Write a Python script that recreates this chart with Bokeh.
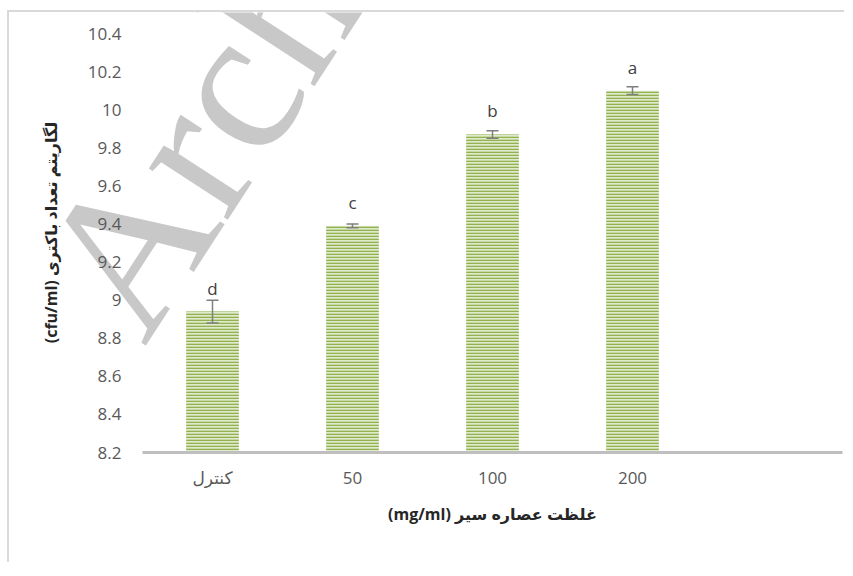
from bokeh.plotting import figure
from bokeh.models import (ColumnDataSource, Range1d, FixedTicker,
                          Whisker, TeeHead, LabelSet, Label)
from bokeh.core.properties import value
from bokeh.embed import file_html
from bokeh.resources import INLINE
import math

# ---- data ----
categories = ["کنترل", "50", "100", "200"]
means = [8.94, 9.39, 9.87, 10.10]
errors = [0.06, 0.01, 0.02, 0.02]
letters = ["d", "c", "b", "a"]
y_ticks = [8.2, 8.4, 8.6, 8.8, 9.0, 9.2, 9.4, 9.6, 9.8, 10.0, 10.2, 10.4]
y_tick_labels = ["8.2", "8.4", "8.6", "8.8", "9", "9.2", "9.4", "9.6", "9.8", "10", "10.2", "10.4"]
x_title = "\u202bغلظت عصاره سیر (mg/ml)\u202c"
y_title = "\u202bلگاریتم تعداد باکتری (cfu/ml)\u202c"
watermark = "Archive of SID"

xs = list(range(len(categories)))
n_slots = len(categories) + 1          # the chart keeps one empty slot on the right

src = ColumnDataSource(dict(
    x=xs,
    means=means,
    upper=[m + e for m, e in zip(means, errors)],
    lower=[m - e for m, e in zip(means, errors)],
    letters=letters,
))

FONT = "Open Sans, DejaVu Sans"

# ---- layout (pixels) ----
W, H = 835, 550                 # canvas
PL, PT, PW, PH = 133, 21, 700, 419   # plot area inside the canvas
ux = PW / n_slots
uy = PH / (y_ticks[-1] - y_ticks[0])
x0 = -0.5 - PL / ux
x1 = -0.5 + (W - PL) / ux
y1 = y_ticks[-1] + PT / uy
y0 = y_ticks[0] - (H - PT - PH) / uy

p = figure(
    x_range=Range1d(x0, x1), y_range=Range1d(y0, y1),
    frame_width=W, frame_height=H,
    min_border_left=0, min_border_right=0, min_border_top=0, min_border_bottom=0,
    output_backend="svg", toolbar_location=None,
)
p.styles = {"border-top": "2px solid #d9d9d9", "border-left": "2px solid #d9d9d9",
            "position": "relative", "left": "7px", "top": "10px"}
p.outline_line_color = None
p.xgrid.visible = False
p.ygrid.visible = False
p.background_fill_color = "white"
p.border_fill_color = "white"

# watermark, behind everything
wm = Label(x=75, y=295, x_units="canvas", y_units="canvas", text=watermark,
           angle=math.radians(57),
           text_font="Liberation Serif", text_font_size="205px",
           text_color="#c8c8c8", text_align="left", text_baseline="alphabetic",
           level="underlay")
p.add_layout(wm)

p.vbar(x="x", top="means", bottom=y_ticks[0], width=0.376, source=src,
       fill_color="#dfe9cb", line_color=None,
       hatch_pattern="horizontal_line", hatch_color="#92b24f",
       hatch_scale=3, hatch_weight=1.6)

wh = Whisker(source=src, base="x", upper="upper", lower="lower",
             line_color="#7f7f7f", line_width=1.5, level="annotation",
             upper_head=TeeHead(size=12, line_color="#7f7f7f", line_width=1.5),
             lower_head=TeeHead(size=12, line_color="#7f7f7f", line_width=1.5))
p.add_layout(wh)

lab = LabelSet(x="x", y="means", text="letters", source=src, y_offset=17,
               text_align="center", text_baseline="alphabetic",
               text_font=value(FONT), text_font_size=value("17px"),
               text_color="#404040")
p.add_layout(lab)

# ---- axes, pinned at the plot-area edges ----
p.yaxis.fixed_location = -0.5
p.yaxis.bounds = (y_ticks[0], y_ticks[-1] + 0.2)
p.yaxis.ticker = FixedTicker(ticks=y_ticks)
p.yaxis.major_label_overrides = {t: l for t, l in zip(y_ticks, y_tick_labels)}
p.yaxis.axis_line_color = None
p.yaxis.major_tick_line_color = None
p.yaxis.minor_tick_line_color = None
p.yaxis.major_tick_out = 0
p.yaxis.major_tick_in = 0
p.yaxis.major_label_standoff = 21
p.yaxis.major_label_text_font = FONT
p.yaxis.major_label_text_font_size = "17px"
p.yaxis.major_label_text_color = "#595959"
p.yaxis.axis_label = y_title
p.yaxis.axis_label_text_font = FONT
p.yaxis.axis_label_text_font_size = "16px"
p.yaxis.axis_label_text_font_style = "bold"
p.yaxis.axis_label_text_color = "#262626"
p.yaxis.axis_label_standoff = 23

p.xaxis.fixed_location = y_ticks[0]
p.xaxis.bounds = (-0.5, n_slots - 0.5)
p.xaxis.ticker = FixedTicker(ticks=xs)
p.xaxis.major_label_overrides = {i: c for i, c in zip(xs, categories)}
p.xaxis.axis_line_color = "#bfbfbf"
p.xaxis.axis_line_width = 3
p.xaxis.major_tick_line_color = None
p.xaxis.minor_tick_line_color = None
p.xaxis.major_tick_out = 0
p.xaxis.major_tick_in = 0
p.xaxis.major_label_standoff = 13
p.xaxis.major_label_text_font = FONT
p.xaxis.major_label_text_font_size = "17px"
p.xaxis.major_label_text_color = "#595959"
p.xaxis.axis_label = x_title
p.xaxis.axis_label_text_font = FONT
p.xaxis.axis_label_text_font_size = "16px"
p.xaxis.axis_label_text_font_style = "bold"
p.xaxis.axis_label_text_color = "#262626"
p.xaxis.axis_label_standoff = 11

open("out.html", "w").write(file_html(p, INLINE))
